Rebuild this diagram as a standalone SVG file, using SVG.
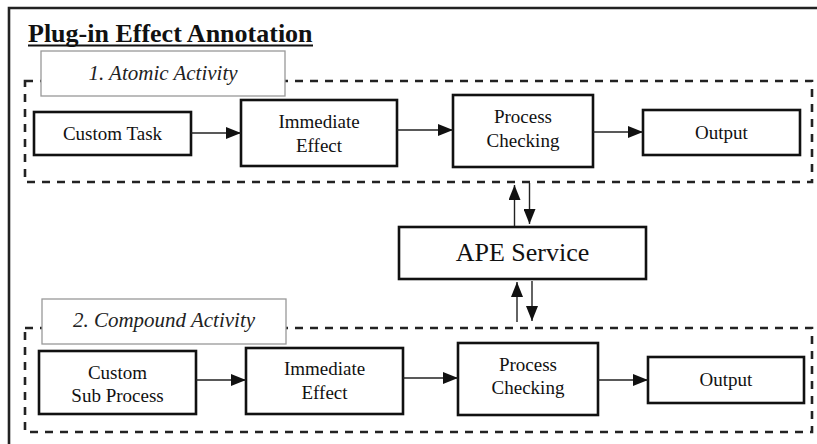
<svg xmlns="http://www.w3.org/2000/svg" width="817" height="444" viewBox="0 0 817 444">
  <defs>
    <style>
      text { font-family: "Liberation Serif", "Times New Roman", serif; fill: #111; }
      .title { font-size: 26px; font-weight: bold; }
      .lbl { font-size: 19px; text-anchor: middle; }
      .cap { font-size: 21px; font-style: italic; text-anchor: middle; fill: #222; }
      .ape { font-size: 26px; text-anchor: middle; }
      .box { fill: #fff; stroke: #111; stroke-width: 2.6; }
      .tag { fill: #fff; stroke: #999; stroke-width: 1.3; }
      .group { fill: none; stroke: #222; stroke-width: 2.6; stroke-dasharray: 8 7; }
      .link { fill: none; stroke: #222; stroke-width: 1.4; marker-end: url(#head); }
    </style>
    <marker id="head" viewBox="0 0 15 12" refX="15" refY="6" markerWidth="15" markerHeight="12" markerUnits="userSpaceOnUse" orient="auto">
      <path d="M0,0 L15,6 L0,12 Z" fill="#111"/>
    </marker>
  </defs>

  <rect width="817" height="444" fill="#fff"/>

  <!-- outer frame, open to the right and bottom -->
  <path d="M9,444 V8 H817" fill="none" stroke="#222" stroke-width="2.6"/>

  <g id="title">
    <text class="title" x="28" y="42">Plug-in Effect Annotation</text>
    <line x1="28" y1="45.5" x2="313" y2="45.5" stroke="#111" stroke-width="2"/>
  </g>

  <!-- 1. atomic activity -->
  <g id="atomic-group">
    <rect class="group" x="25" y="81" width="787" height="101"/>
    <rect class="tag" x="41" y="51" width="244" height="45"/>
    <text class="cap" x="163" y="80">1. Atomic Activity</text>
  </g>
  <g id="a-custom-task">
    <rect class="box" x="34" y="112" width="157" height="43"/>
    <text class="lbl" x="112.5" y="140">Custom Task</text>
  </g>
  <g id="a-immediate-effect">
    <rect class="box" x="241" y="100" width="156" height="66"/>
    <text class="lbl" x="319" y="128">Immediate</text>
    <text class="lbl" x="319" y="152">Effect</text>
  </g>
  <g id="a-process-checking">
    <rect class="box" x="453" y="95" width="140" height="72"/>
    <text class="lbl" x="523" y="123">Process</text>
    <text class="lbl" x="523" y="147">Checking</text>
  </g>
  <g id="a-output">
    <rect class="box" x="643" y="110" width="157" height="45"/>
    <text class="lbl" x="721.5" y="139">Output</text>
  </g>

  <!-- APE service -->
  <g id="ape-service">
    <rect class="box" x="399" y="227" width="247" height="52"/>
    <text class="ape" x="522.5" y="261">APE Service</text>
  </g>

  <!-- 2. compound activity -->
  <g id="compound-group">
    <rect class="group" x="25" y="328" width="787" height="104"/>
    <rect class="tag" x="42" y="299" width="244" height="45"/>
    <text class="cap" x="164" y="327">2. Compound Activity</text>
  </g>
  <g id="c-custom-sub-process">
    <rect class="box" x="39" y="351" width="157" height="63"/>
    <text class="lbl" x="117.5" y="379">Custom</text>
    <text class="lbl" x="117.5" y="402">Sub Process</text>
  </g>
  <g id="c-immediate-effect">
    <rect class="box" x="246" y="348" width="157" height="66"/>
    <text class="lbl" x="324.5" y="375">Immediate</text>
    <text class="lbl" x="324.5" y="399">Effect</text>
  </g>
  <g id="c-process-checking">
    <rect class="box" x="458" y="343" width="140" height="72"/>
    <text class="lbl" x="528" y="371">Process</text>
    <text class="lbl" x="528" y="394">Checking</text>
  </g>
  <g id="c-output">
    <rect class="box" x="648" y="357" width="156" height="46"/>
    <text class="lbl" x="726" y="386">Output</text>
  </g>

  <g id="connectors">
    <!-- atomic flow -->
    <line class="link" x1="191" y1="133" x2="241" y2="133"/>
    <line class="link" x1="397" y1="130" x2="453" y2="130"/>
    <line class="link" x1="593" y1="132" x2="643" y2="132"/>
    <!-- atomic <-> APE -->
    <line class="link" x1="514.5" y1="226" x2="514.5" y2="185"/>
    <line class="link" x1="529.5" y1="183" x2="529.5" y2="224"/>
    <!-- APE <-> compound -->
    <line class="link" x1="517" y1="322" x2="517" y2="282"/>
    <line class="link" x1="532" y1="281" x2="532" y2="321"/>
    <!-- compound flow -->
    <line class="link" x1="196" y1="380" x2="246" y2="380"/>
    <line class="link" x1="403" y1="378" x2="458" y2="378"/>
    <line class="link" x1="598" y1="380" x2="648" y2="380"/>
  </g>
</svg>
